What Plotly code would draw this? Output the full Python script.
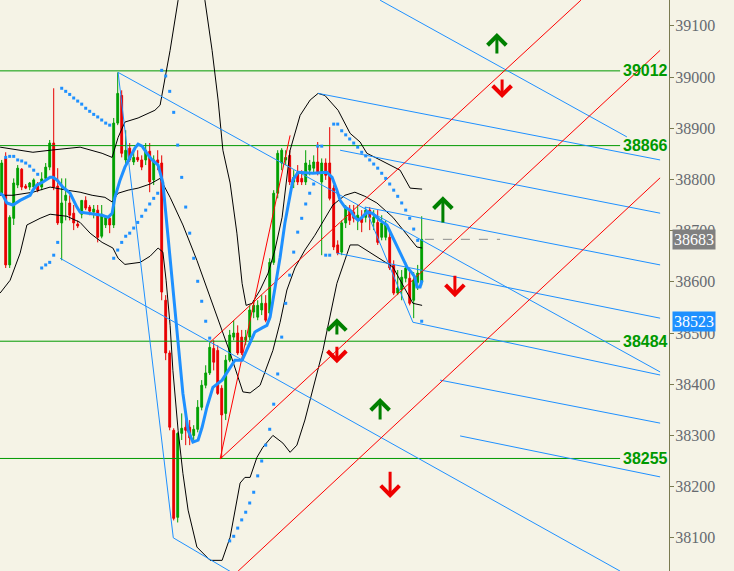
import plotly.graph_objects as go

# ---------------- data ----------------
OPEN = [38773,38841,38633,38724,38789,38820,38787,38785,38785,38791,
        38785,38802,38824,38871,38787,38715,38759,38754,38734,38713,
        38732,38759,38746,38736,38740,38689,38711,38724,38711,38910,
        38964,38838,38861,38834,38843,38838,38838,38855,38799,38838,
        38832,38564,38461,38310,38140,38304,38316,38316,38300,38312,
        38355,38398,38422,38470,38466,38392,38343,38447,38492,38500,
        38492,38486,38492,38541,38531,38545,38558,38539,38638,38773,
        38832,38838,38847,38795,38814,38802,38795,38818,38822,38834,
        38795,38832,38832,38783,38672,38658,38715,38740,38736,38724,
        38726,38726,38740,38716,38716,38687,38687,38687,38633,38578,
        38584,38607,38607,38564,38599,38599]
HIGH = [38838,38853,38730,38802,38828,38822,38791,38795,38802,38795,
        38814,38832,38877,38978,38822,38802,38802,38769,38750,38720,
        38759,38767,38750,38750,38750,38750,38730,38730,38920,39009,
        38974,38896,38871,38857,38857,38847,38871,38871,38847,38857,
        38847,38574,38466,38314,38306,38343,38340,38330,38320,38369,
        38408,38437,38482,38486,38476,38398,38457,38506,38525,38515,
        38506,38506,38554,38564,38564,38574,38574,38646,38779,38857,
        38861,38857,38857,38818,38828,38818,38857,38838,38847,38873,
        38841,38841,38902,38789,38681,38720,38750,38750,38750,38750,
        38740,38746,38746,38740,38740,38730,38720,38697,38642,38623,
        38623,38638,38619,38619,38633,38728]
LOW = [38769,38627,38627,38711,38783,38779,38781,38779,38783,38775,
       38779,38799,38818,38779,38711,38642,38720,38720,38701,38705,
       38724,38740,38730,38724,38677,38685,38705,38695,38705,38906,
       38843,38828,38834,38828,38834,38818,38828,38775,38789,38818,
       38564,38447,38310,38134,38130,38291,38281,38281,38291,38306,
       38349,38392,38418,38427,38379,38254,38330,38443,38486,38457,
       38457,38476,38486,38529,38525,38535,38521,38525,38633,38763,
       38818,38828,38789,38783,38789,38789,38789,38808,38814,38808,
       38652,38799,38759,38662,38652,38652,38705,38711,38716,38701,
       38697,38716,38701,38701,38672,38681,38681,38623,38574,38574,
       38564,38599,38554,38529,38584,38593]
CLOSE = [38832,38633,38726,38793,38822,38785,38783,38793,38799,38779,
         38801,38824,38871,38785,38715,38754,38769,38730,38715,38709,
         38759,38744,38738,38742,38687,38732,38726,38711,38910,38968,
         38851,38857,38838,38843,38838,38824,38857,38795,38838,38832,
         38580,38461,38316,38138,38304,38314,38310,38295,38312,38355,
         38398,38422,38472,38443,38382,38340,38447,38496,38500,38461,
         38461,38492,38545,38554,38554,38558,38525,38638,38773,38851,
         38857,38843,38795,38804,38795,38795,38832,38828,38834,38812,
         38832,38808,38763,38668,38656,38715,38746,38720,38724,38730,
         38716,38740,38726,38726,38677,38715,38711,38627,38578,38588,
         38609,38627,38558,38603,38617,38683]
BAR = list(range(len(CLOSE)))

# Bollinger bands (bar index, price)
BB_UP_X = [-0.4,4.6,7.8,12.1,19.6,25.1,27.6,29.1,30.8,34.1,38.3,39.6,40.8,42.1,44.1,45.8,47.6,49.3,50.8,52.6,54.1,55.3,57.1,58.8,60.1,61.1,62.6,64.6,66.6,68.3,70.1,71.3,72.1,74.6,77.1,79.1,80.8,84.1,85.3,87.1,89.6,91.3,94.6,99.6,102.1,105.1]
BB_UP_Y = [38863,38857,38853,38857,38863,38851,38843,38882,38912,38920,38935,38945,38994,39052,39150,39209,39238,39209,39150,39052,38955,38857,38793,38695,38597,38554,38558,38584,38617,38662,38726,38804,38857,38925,38955,38968,38964,38935,38916,38890,38873,38851,38838,38818,38783,38781]
BB_MID_X = [-0.4,2.8,7.8,12.1,16.3,19.6,22.6,25.8,27.6,29.1,31.6,34.1,37.1,38.8,39.6,42.1,45.3,48.8,52.1,54.6,57.1,60.3,62.1,64.6,66.3,67.8,69.6,71.3,73.3,75.8,78.3,80.8,82.8,85.8,88.3,90.8,93.8,97.8,100.8,103.8,105.1]
BB_MID_Y = [38769,38769,38775,38785,38779,38775,38769,38765,38756,38773,38779,38783,38791,38799,38802,38765,38711,38642,38570,38519,38461,38385,38383,38398,38433,38466,38521,38584,38627,38662,38691,38724,38750,38769,38775,38767,38754,38726,38697,38668,38666]
BB_LO_X = [-0.4,2.1,4.6,6.3,9.6,12.1,16.3,19.6,22.1,25.1,27.8,29.1,30.8,34.6,37.1,39.1,40.3,41.1,42.1,42.8,44.1,45.3,46.6,48.8,52.1,55.1,57.1,59.6,60.8,62.1,63.8,65.3,67.8,70.3,72.1,73.8,75.8,78.3,80.3,83.8,87.1,89.1,93.8,97.8,102.8,105.1]
BB_LO_Y = [38578,38603,38656,38711,38724,38732,38728,38716,38695,38677,38666,38646,38634,38638,38650,38666,38658,38603,38515,38427,38310,38226,38154,38082,38056,38056,38101,38207,38218,38218,38257,38277,38300,38285,38267,38281,38330,38408,38466,38597,38672,38672,38648,38629,38558,38554]

# moving average (bar index, price)
MA_X = [-0.4,0.3,1.3,2.8,4.6,6.3,7.1,7.8,8.8,10.3,12.1,12.8,13.8,15.3,17.1,18.8,19.6,21.6,25.1,26.6,27.6,28.3,29.6,30.8,32.1,33.3,34.1,35.1,36.3,37.6,39.1,40.3,41.6,42.8,44.1,45.3,46.6,47.8,49.1,50.1,51.3,52.8,55.1,57.1,58.3,60.1,61.6,63.3,65.1,66.3,67.1,68.3,69.6,70.8,72.1,72.8,74.1,77.8,81.3,82.6,83.8,84.6,85.8,87.1,88.3,89.1,90.1,91.3,92.6,94.6,96.3,97.8,99.6,101.3,102.6,103.3,103.8,104.6,105.1]
MA_Y = [38773,38769,38754,38750,38759,38765,38769,38779,38789,38795,38804,38804,38799,38785,38773,38746,38736,38734,38730,38726,38734,38765,38799,38824,38843,38861,38869,38865,38851,38838,38828,38793,38687,38584,38472,38382,38310,38287,38291,38316,38355,38394,38408,38433,38447,38447,38472,38502,38510,38515,38531,38584,38648,38715,38773,38799,38814,38812,38814,38804,38779,38759,38746,38740,38726,38720,38726,38736,38734,38720,38711,38687,38656,38629,38617,38609,38590,38590,38603]

# parabolic SAR (bar index, price)
SAR_X = list(range(1, 53)) + list(range(57, 106))
SAR_Y = [38843,38845,38845,38838,38836,38832,38826,38818,38810,
         38627,38633,38638,38652,38677,
         38978,38972,38966,38959,38953,38947,38939,38933,38927,38922,38916,38910,38906,
         38646,38662,38677,38689,38695,38705,38716,38728,38740,38752,38763,38773,
         39013,39002,38972,38931,38867,38804,38746,38695,38646,38601,38562,38523,38490,
         38094,38103,38119,38135,38150,38168,38189,38221,38250,38281,38312,38361,38420,
         38492,38558,38613,38658,38697,38724,38752,38773,38791,
         38865,38865,38652,38652,
         38908,38908,38895,38887,38879,38871,38863,38853,38846,38838,38830,38822,
         38812,38802,38791,38779,38767,38754,38740,38724,38703,38681,
         38523]

# trend lines: start bar, start price, end bar, end price
BLUE_X0 = [94.6, 79.1, 84.6, 90.8, 83.8, 102.8, 109.6, 114.6, 29.1, 14.6, 29.1, 42.9, 90.8]
BLUE_Y0 = [39150, 38968, 38857, 38746, 38656, 38521, 38408, 38299, 39009, 38646, 39009, 38100, 38746]
BLUE_X1 = [156.3, 164.6, 164.6, 164.6, 164.6, 164.6, 164.6, 164.6, 164.6, 154.6, 42.9, 59.6, 102.8]
BLUE_Y1 = [38883, 38838, 38734, 38633, 38529, 38418, 38324, 38219, 38424, 38035, 38100, 38023, 38521]
RED_X0 = [54.6, 52.1, 54.6, 59.1]
RED_Y0 = [38254, 38482, 38254, 38035]
RED_X1 = [72.1, 144.8, 164.6, 164.6]
RED_Y1 = [38886, 39150, 39052, 38803]

LEVELS = [39012, 38866, 38484, 38255]
LEVEL_END = 154.6

# signal arrows: bar, tip price, tail price
UP_X = [123.8, 110.3, 83.8, 94.6]
UP_TIP = [39086, 38767, 38529, 38373]
UP_TAIL = [39043, 38713, 38494, 38328]
DN_X = [125.1, 113.3, 83.8, 97.1]
DN_TIP = [38959, 38570, 38441, 38178]
DN_TAIL = [38998, 38615, 38476, 38232]

LAST_PRICE = 38683
SAR_PRICE = 38523
PRICE_LINE_X = [105.8, 124.6]

TICKS = [38100, 38200, 38300, 38400, 38500, 38600, 38700, 38800, 38900, 39000, 39100]
Y_RANGE = [38035.2, 39150.4]
X_RANGE = [-0.425, 166.825]

# ---------------- styles ----------------
BG = "#f5f3e6"
GREEN = "#00a000"
RED = "#e80000"
BLUE = "#1e90ff"
LEVEL_GREEN = "#009900"


def seg_lists(x0, y0, x1, y1):
    xs, ys = [], []
    for a, b, c, d in zip(x0, y0, x1, y1):
        xs += [a, c, None]
        ys += [b, d, None]
    return xs, ys


fig = go.Figure()

# horizontal levels
lx, ly = [], []
for lv in LEVELS:
    lx += [X_RANGE[0], LEVEL_END, None]
    ly += [lv, lv, None]
fig.add_trace(go.Scatter(x=lx, y=ly, mode="lines", line=dict(color=LEVEL_GREEN, width=1), hoverinfo="skip"))

# bollinger
for bx, by in [(BB_UP_X, BB_UP_Y), (BB_MID_X, BB_MID_Y), (BB_LO_X, BB_LO_Y)]:
    fig.add_trace(go.Scatter(x=bx, y=by, mode="lines", line=dict(color="black", width=1), hoverinfo="skip"))

# candles
fig.add_trace(go.Candlestick(
    x=BAR, open=OPEN, high=HIGH, low=LOW, close=CLOSE,
    increasing=dict(line=dict(color=GREEN, width=1), fillcolor=GREEN),
    decreasing=dict(line=dict(color=RED, width=1), fillcolor=RED),
    whiskerwidth=0, hoverinfo="skip"))

# trend lines
bx, by = seg_lists(BLUE_X0, BLUE_Y0, BLUE_X1, BLUE_Y1)
fig.add_trace(go.Scatter(x=bx, y=by, mode="lines", line=dict(color=BLUE, width=1), hoverinfo="skip"))
rx, ry = seg_lists(RED_X0, RED_Y0, RED_X1, RED_Y1)
fig.add_trace(go.Scatter(x=rx, y=ry, mode="lines", line=dict(color="#ff0000", width=1), hoverinfo="skip"))

# current price line
fig.add_trace(go.Scatter(x=PRICE_LINE_X, y=[LAST_PRICE, LAST_PRICE], mode="lines",
                         line=dict(color="#8c8c8c", width=1, dash="dash"), hoverinfo="skip"))

# SAR
fig.add_trace(go.Scatter(x=SAR_X, y=SAR_Y, mode="markers",
                         marker=dict(symbol="square", size=3, color=BLUE, line=dict(width=0)), hoverinfo="skip"))

# moving average
fig.add_trace(go.Scatter(x=MA_X, y=MA_Y, mode="lines", line=dict(color=BLUE, width=3), hoverinfo="skip"))

ann = []
for x, tip, tail in zip(UP_X, UP_TIP, UP_TAIL):
    ann.append(dict(x=x, y=tip, xref="x", yref="y", ax=x, ay=tail, axref="x", ayref="y",
                    text="", showarrow=True, arrowhead=4, arrowsize=1.2, arrowwidth=3,
                    arrowcolor="#008000"))
for x, tip, tail in zip(DN_X, DN_TIP, DN_TAIL):
    ann.append(dict(x=x, y=tip, xref="x", yref="y", ax=x, ay=tail, axref="x", ayref="y",
                    text="", showarrow=True, arrowhead=4, arrowsize=1.2, arrowwidth=3,
                    arrowcolor="#ee0000"))
for lv in LEVELS:
    ann.append(dict(x=1, xref="paper", y=lv, yref="y", text="<b>%d</b>" % lv, showarrow=False,
                    xanchor="right", yanchor="middle", xshift=1,
                    font=dict(family="Liberation Sans, Arial", size=16, color=LEVEL_GREEN)))
for val, col in [(LAST_PRICE, "#808080"), (SAR_PRICE, BLUE)]:
    ann.append(dict(x=1, xref="paper", y=val, yref="y", text=str(val), showarrow=False,
                    xanchor="left", yanchor="middle", xshift=3, bgcolor=col, borderpad=1,
                    font=dict(family="Liberation Serif, Times New Roman", size=16, color="white")))

fig.update_layout(
    width=734, height=571,
    margin=dict(l=0, r=65, t=0, b=0, pad=0),
    paper_bgcolor=BG, plot_bgcolor=BG,
    showlegend=False, hovermode=False, boxgap=0.35,
    annotations=ann,
    xaxis=dict(range=X_RANGE, visible=False, rangeslider=dict(visible=False), fixedrange=True),
    yaxis=dict(range=Y_RANGE, side="right", showgrid=False, zeroline=False, automargin=False,
               tickvals=TICKS, ticktext=[str(t) for t in TICKS],
               ticks="outside", ticklen=4, tickcolor="#7a7a50", tickwidth=1,
               ticklabelstandoff=-2,
               showline=True, linecolor="#7a7a50", linewidth=1,
               tickfont=dict(family="Liberation Serif, Times New Roman", size=16, color="#666a70"),
               fixedrange=True),
)

fig.write_html("out.html", config={"displayModeBar": False, "staticPlot": True},
               post_script="document.body.style.margin='0';document.body.style.padding='0';")
